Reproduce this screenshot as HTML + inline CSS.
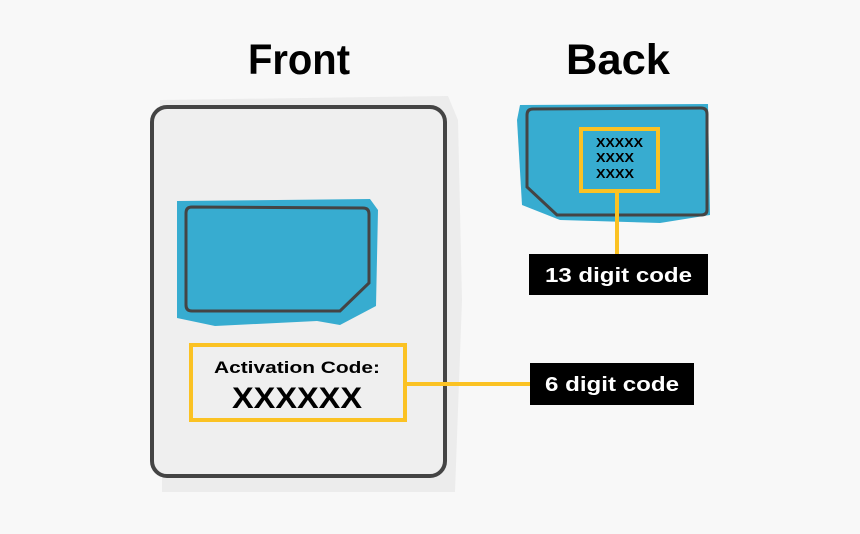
<!DOCTYPE html>
<html><head><meta charset="utf-8"><style>
html,body{margin:0;padding:0;background:#f8f8f8;}
svg{display:block;}
text{font-family:"Liberation Sans",sans-serif;font-weight:bold;}
</style></head><body>
<svg width="860" height="534" viewBox="0 0 860 534" xmlns="http://www.w3.org/2000/svg">
<rect width="860" height="534" fill="#f8f8f8"/>
<text x="299" y="74" font-size="43" text-anchor="middle" fill="#000" textLength="102" lengthAdjust="spacingAndGlyphs">Front</text>
<text x="618" y="74" font-size="43" text-anchor="middle" fill="#000" textLength="104" lengthAdjust="spacingAndGlyphs">Back</text>

<!-- front card -->
<polygon points="160,100 448,96 458,120 462,300 455,492 162,492" fill="#ececec"/>
<rect x="152" y="107" width="293" height="369" rx="15" fill="#efefef" stroke="#444" stroke-width="4"/>
<polygon points="177,201 370,199 378,210 376,306 340,325 317,321 215,326 177,318" fill="#37acd0"/>
<path d="M192,207 L363,208 Q369,208 369,214 L369,283 L340,311 L192,311 Q186,311 186,305 L186,213 Q186,207 192,207 Z" fill="none" stroke="#444" stroke-width="3"/>
<rect x="191" y="345" width="214" height="75" fill="none" stroke="#fbc223" stroke-width="4"/>
<text x="214" y="373" font-size="17" fill="#000" textLength="166" lengthAdjust="spacingAndGlyphs">Activation Code:</text>
<text x="232" y="408" font-size="30" fill="#000" textLength="130" lengthAdjust="spacingAndGlyphs">XXXXXX</text>
<line x1="405" y1="384" x2="532" y2="384" stroke="#fbc223" stroke-width="4"/>
<rect x="530" y="363" width="164" height="42" fill="#000"/>
<text x="545" y="391" font-size="20" fill="#fff" textLength="134" lengthAdjust="spacingAndGlyphs">6 digit code</text>

<!-- back sim -->
<polygon points="520,105 708,104 710,215 660,223 560,220 522,205 517,120" fill="#37acd0"/>
<path d="M533,109 L701,108 Q707,108 707,114 L707,210 Q707,215 701,215 L557,215 L527,187 L527,115 Q527,109 533,109 Z" fill="none" stroke="#444" stroke-width="3"/>
<rect x="581" y="129" width="77" height="62" fill="none" stroke="#fbc223" stroke-width="4"/>
<text x="596" y="147" font-size="13" fill="#000" textLength="47" lengthAdjust="spacingAndGlyphs">XXXXX</text>
<text x="596" y="162" font-size="13" fill="#000" textLength="38" lengthAdjust="spacingAndGlyphs">XXXX</text>
<text x="596" y="178" font-size="13" fill="#000" textLength="38" lengthAdjust="spacingAndGlyphs">XXXX</text>
<line x1="617" y1="191" x2="617" y2="256" stroke="#fbc223" stroke-width="4"/>
<rect x="529" y="254" width="179" height="41" fill="#000"/>
<text x="545" y="282" font-size="20" fill="#fff" textLength="147" lengthAdjust="spacingAndGlyphs">13 digit code</text>
</svg>
</body></html>
